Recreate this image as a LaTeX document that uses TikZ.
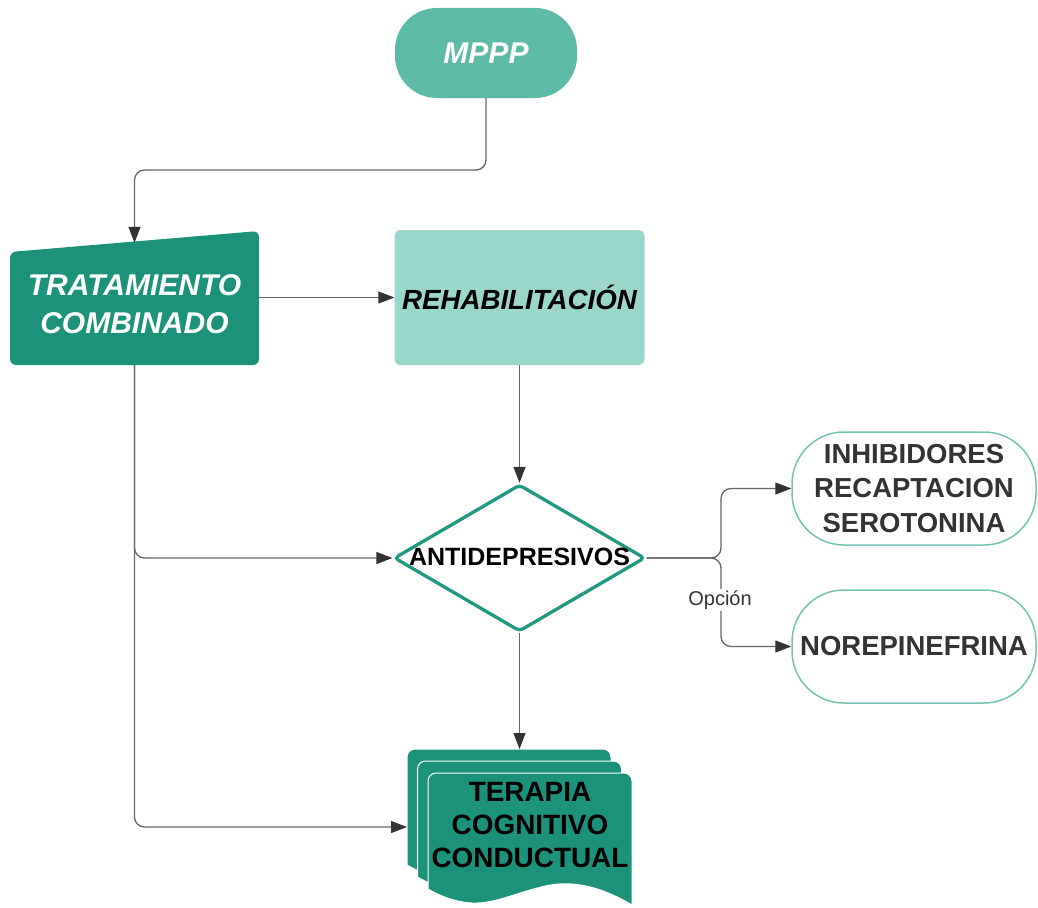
\documentclass[tikz,border=0pt]{standalone}
\usepackage{fontspec}
\setmainfont{Liberation Sans}
\usetikzlibrary{arrows.meta,shapes.geometric}
\definecolor{tealdark}{HTML}{1B9279}
\definecolor{tealmid}{HTML}{5CBAA7}
\definecolor{teallight}{HTML}{9BD6CB}
\definecolor{tealline}{HTML}{1F9A80}
\definecolor{tealthin}{HTML}{74C4B4}
\definecolor{wire}{HTML}{666666}
\definecolor{tipgray}{HTML}{333333}
\definecolor{ink}{HTML}{333333}
\begin{document}
\begin{tikzpicture}[x=1pt,y=-1pt,
  conn/.style={draw=wire,line width=1.3pt,rounded corners=10pt,
    -{Triangle[length=16pt,width=12pt,color=tipgray]}},
  capsule/.style={draw=tealthin,line width=1.5pt,fill=white,rounded corners=52pt,
    minimum width=244pt,minimum height=113pt,align=center,text=ink,inner sep=2pt,
    font=\fontsize{27.5}{34.5}\selectfont\bfseries},
  sheet/.style={fill=tealdark,draw=white,line width=1pt}]
\useasboundingbox (0,0) rectangle (1038,907);

% start terminal
\node[fill=tealmid,minimum width=182pt,minimum height=90pt,rounded corners=42pt,
  text=white,font=\fontsize{30}{34}\selectfont\bfseries\itshape] (mppp) at (486,53) {MPPP};

% combined-treatment block with a sloped top edge
\fill[tealdark,rounded corners=6pt] (10,252) -- (259,231) -- (259,365) -- (10,365) -- cycle;
\node[minimum width=249pt,minimum height=122pt,text=white,align=center,
  font=\fontsize{30}{38}\selectfont\bfseries\itshape] (trat) at (134.5,304) {TRATAMIENTO\\COMBINADO};

% rehabilitation process box
\node[fill=teallight,rounded corners=6pt,minimum width=250pt,minimum height=135pt,
  font=\fontsize{27.7}{32}\selectfont\bfseries\itshape] (rehab) at (519.5,297.5) {REHABILITACIÓN};

% decision diamond
\node[diamond,draw=tealline,line width=3.3pt,rounded corners=4pt,fill=white,
  minimum width=251pt,minimum height=147pt,inner sep=0pt] (anti) at (519.5,558) {};
\node[font=\fontsize{25}{28}\selectfont\bfseries,text=black] (antitxt) at (519.5,557) {ANTIDEPRESIVOS};

% options
\node[capsule] (inh) at (914,488.5) {INHIBIDORES\\RECAPTACION\\SEROTONINA};
\node[capsule] (nore) at (914,646.5) {NOREPINEFRINA};

% stacked documents
\foreach \dx/\dy in {-21/-24,-10.5/-12,0/0}{
  \begin{scope}[shift={(\dx,\dy)}]
    \path[sheet] (428,889) [rounded corners=8pt] -- (428,773) -- (632,773) -- (632,783)
      [sharp corners] -- (632,905)
      .. controls (600,886) and (572,880) .. (545,886)
      .. controls (515,893) and (495,904) .. (472,903)
      .. controls (455,902) and (440,896) .. (428,889) -- cycle;
  \end{scope}
}
\node[minimum width=225pt,minimum height=156pt,inner sep=0pt,outer sep=0pt] (cbt) at (519.5,827) {};
\node[font=\fontsize{27.9}{33}\selectfont\bfseries,align=center,text=black] (cbttext) at (530,825)
  {TERAPIA\\COGNITIVO\\CONDUCTUAL};

% connectors
\coordinate (bendA) at (0,170);
\coordinate (fork) at (721,0);
\draw[conn] (mppp.south) -- (mppp.south |- bendA) -- (trat.north |- bendA) -- (trat.north);
\draw[conn] (trat.east |- rehab.west) -- (rehab.west);
\draw[conn] (rehab.south) -- (anti.north);
\draw[conn] (trat.south) |- (anti.west);
\draw[conn] (trat.south) |- (cbt.west);
\draw[conn] (anti.south) -- (cbt.north);
\draw[conn] (anti.east) -- (anti.east -| fork) |- (inh.west);
\draw[conn] (anti.east) -- (anti.east -| fork) |- (nore.west);
\node[fill=white,inner sep=2pt,text=ink,font=\fontsize{20}{24}\selectfont] (opt) at (720,600) {Opción};
\end{tikzpicture}
\end{document}
